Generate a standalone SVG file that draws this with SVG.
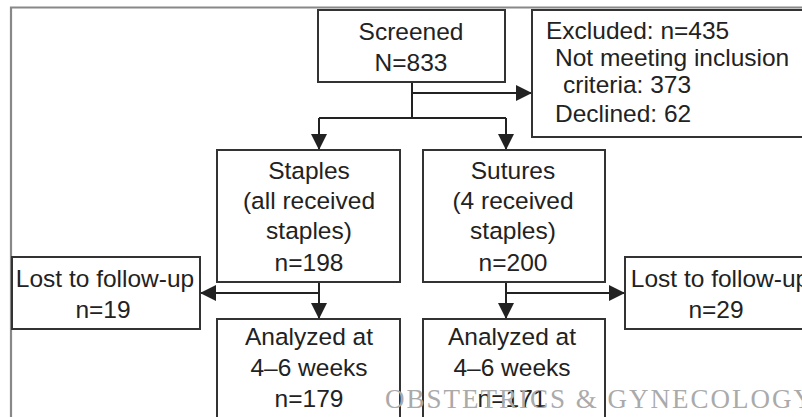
<svg xmlns="http://www.w3.org/2000/svg" width="802" height="417" viewBox="0 0 802 417">
<style>
.box{fill:#fff;stroke:#333;stroke-width:2}
.t{font-family:"Liberation Sans",Arial,sans-serif;font-size:24.5px;fill:#222;text-anchor:middle}
.ts{text-anchor:start}
.c{fill:none;stroke:#222;stroke-width:2}
.wm{font-family:"Liberation Serif","Times New Roman",serif;font-size:27px;fill:#aaa;letter-spacing:2px}
</style>
<defs>
<marker id="ah" viewBox="0 0 16 16" refX="16" refY="8" markerWidth="16" markerHeight="16" markerUnits="userSpaceOnUse" orient="auto">
<path d="M0,0 L16,8 L0,16 z" fill="#222"/>
</marker>
</defs>
<rect width="802" height="417" fill="#fff"/>
<path d="M11,417 V7.5 H802" fill="none" stroke="#888" stroke-width="2.2"/>
<g id="connectors">
<path class="c" d="M412,82 V118 M319,118 H506"/>
<path class="c" d="M319,118 V150" marker-end="url(#ah)"/>
<path class="c" d="M506,118 V150" marker-end="url(#ah)"/>
<path class="c" d="M412,93 H532" marker-end="url(#ah)"/>
<path class="c" d="M319,282 V319" marker-end="url(#ah)"/>
<path class="c" d="M319,293 H200" marker-end="url(#ah)"/>
<path class="c" d="M506,282 V319" marker-end="url(#ah)"/>
<path class="c" d="M506,293 H625" marker-end="url(#ah)"/>
</g>
<g id="screened">
<rect class="box" x="318" y="10" width="187" height="72"/>
<text class="t" x="411" y="40">Screened</text>
<text class="t" x="411" y="71">N=833</text>
</g>
<g id="excluded">
<rect class="box" x="532" y="10" width="290" height="127"/>
<text class="t ts" x="546" y="39">Excluded: n=435</text>
<text class="t ts" x="555" y="66">Not meeting inclusion</text>
<text class="t ts" x="563" y="93">criteria: 373</text>
<text class="t ts" x="555" y="122">Declined: 62</text>
</g>
<g id="staples">
<rect class="box" x="217" y="150" width="183" height="132"/>
<text class="t" x="309" y="179">Staples</text>
<text class="t" x="309" y="209">(all received</text>
<text class="t" x="309" y="239">staples)</text>
<text class="t" x="309" y="271">n=198</text>
</g>
<g id="sutures">
<rect class="box" x="423" y="150" width="182" height="132"/>
<text class="t" x="513" y="179">Sutures</text>
<text class="t" x="513" y="209">(4 received</text>
<text class="t" x="513" y="239">staples)</text>
<text class="t" x="513" y="271">n=200</text>
</g>
<g id="lost-left">
<rect class="box" x="12" y="257" width="188" height="72"/>
<text class="t" x="105" y="287">Lost to follow-up</text>
<text class="t" x="103" y="318">n=19</text>
</g>
<g id="lost-right">
<rect class="box" x="625" y="257" width="190" height="72"/>
<text class="t" x="720" y="287">Lost to follow-up</text>
<text class="t" x="716" y="318">n=29</text>
</g>
<g id="analyzed-left">
<rect class="box" x="217" y="319" width="183" height="110"/>
<text class="t" x="309" y="345">Analyzed at</text>
<text class="t" x="309" y="376">4–6 weeks</text>
<text class="t" x="309" y="407">n=179</text>
</g>
<g id="analyzed-right">
<rect class="box" x="423" y="319" width="182" height="110"/>
<text class="t" x="512" y="345">Analyzed at</text>
<text class="t" x="512" y="376">4–6 weeks</text>
<text class="t" x="512" y="407">n=171</text>
</g>
<text class="wm" x="385" y="408">OBSTETRICS &amp; GYNECOLOGY</text>
</svg>
